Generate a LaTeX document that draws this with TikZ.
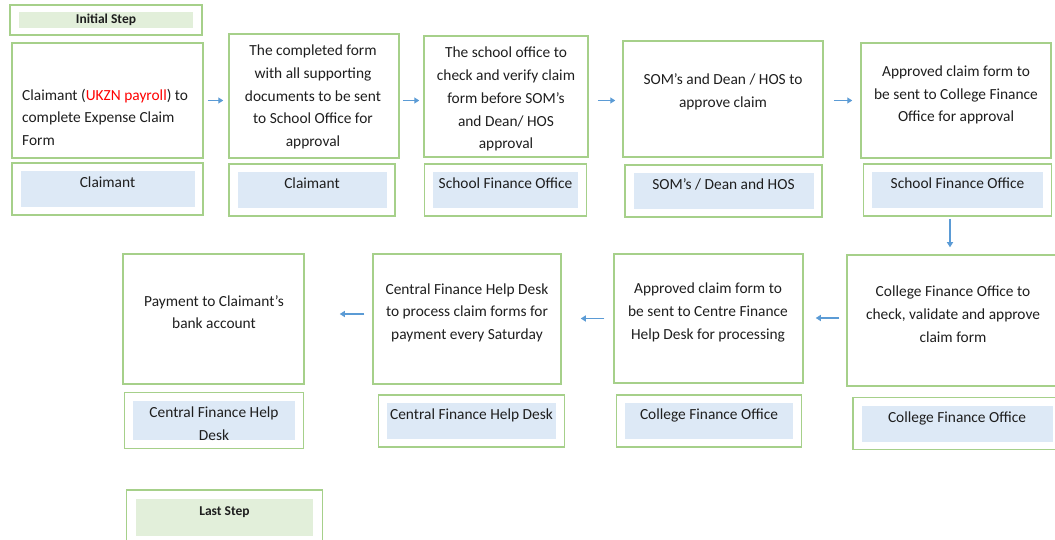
\documentclass[tikz,border=0pt]{standalone}
\usepackage{fontspec}
\setmainfont{Carlito}
\usetikzlibrary{arrows.meta,fit}

\begin{document}
\begin{tikzpicture}[x=1pt,y=-1pt]
    % set up office palette
    \definecolor{boxGreen}{RGB}{166,208,138}
    \definecolor{stepGreen}{RGB}{226,239,218}
    \definecolor{roleBlue}{RGB}{221,233,246}
    \definecolor{flowBlue}{RGB}{91,155,213}
    \definecolor{ukznRed}{RGB}{255,0,0}
    \definecolor{ink}{RGB}{30,30,30}
    \tikzstyle{every node}=[font=\fontsize{15.4}{22.7}\selectfont, text=ink]
    \tikzstyle{stepbox}=[draw=boxGreen, line width=1.5pt, inner sep=0pt]
    \tikzstyle{steptext}=[align=center, inner sep=0pt]
    \tikzstyle{rolefill}=[fill=roleBlue, inner sep=0pt, text height=16.5pt, text depth=19.5pt, align=center]
    \tikzstyle{rolebox}=[draw=boxGreen, line width=1.5pt, inner xsep=8.5pt, inner ysep=8pt]
    \tikzstyle{endfill}=[fill=stepGreen, inner sep=0pt, font=\fontsize{13.5}{15}\selectfont\bfseries]
    \tikzstyle{flow}=[-{Triangle[length=5pt,width=6pt]}, line width=1.5pt, draw=flowBlue]

    \useasboundingbox (0,0) rectangle (1055,540);

    % first and last step tags
    \node[endfill, minimum width=174pt, text height=12pt, text depth=4pt] (initFill) at (106,20) {Initial Step};
    \node[rolebox, inner xsep=9pt, inner ysep=7pt, fit=(initFill)] (init) {};
    \node[endfill, minimum width=177pt, text height=16pt, text depth=21pt] (lastFill) at (224.5,517.5) {Last Step};
    \node[rolebox, inner xsep=9.5pt, inner ysep=9pt, fit=(lastFill)] (last) {};

    % top row of steps
    \node[stepbox, minimum width=191pt, minimum height=115pt] (s1) at (107.5,100.5) {};
    \node[stepbox, minimum width=170pt, minimum height=124pt] (s2) at (314,96) {};
    \node[stepbox, minimum width=164pt, minimum height=121pt] (s3) at (506,96.5) {};
    \node[stepbox, minimum width=200pt, minimum height=116pt] (s4) at (723,99) {};
    \node[stepbox, minimum width=190pt, minimum height=115pt] (s5) at (956,100.5) {};

    \node[steptext, align=left, anchor=west] (s1t) at (22,117.3) {Claimant (\textcolor{ukznRed}{UKZN payroll}) to\\complete Expense Claim\\Form};
    \node[steptext] (s2t) at (313,97) {The completed form\\with all supporting\\documents to be sent\\to School Office for\\approval};
    \node[steptext] (s3t) at (506,99.2) {The school office to\\check and verify claim\\form before SOM's\\and Dean/ HOS\\approval};
    \node[steptext] (s4t) at (723,92) {SOM's and Dean / HOS to\\approve claim};
    \node[steptext] (s5t) at (956,95) {Approved claim form to\\be sent to College Finance\\Office for approval};

    % bottom row of steps
    \node[stepbox, minimum width=212pt, minimum height=131pt] (s6) at (953,320.5) {};
    \node[stepbox, minimum width=189pt, minimum height=129pt] (s7) at (708.5,318.5) {};
    \node[stepbox, minimum width=188pt, minimum height=130pt] (s8) at (467,319) {};
    \node[stepbox, minimum width=181pt, minimum height=130pt] (s9) at (213.5,319) {};

    \node[steptext] (s6t) at (953,314.3) {College Finance Office to\\check, validate and approve\\claim form};
    \node[steptext] (s7t) at (708,312.3) {Approved claim form to\\be sent to Centre Finance\\Help Desk for processing};
    \node[steptext] (s8t) at (467,312.7) {Central Finance Help Desk\\to process claim forms for\\payment every Saturday};
    \node[steptext] (s9t) at (214,312) {Payment to Claimant's\\bank account};

    % who does each step
    \node[rolefill, minimum width=174pt] (f1) at (107.5,189) {Claimant};
    \node[rolefill, minimum width=149pt] (f2) at (312,190) {Claimant};
    \node[rolefill, minimum width=145pt] (f3) at (505.5,190) {School Finance Office};
    \node[rolefill, minimum width=180pt] (f4) at (723.5,191) {SOM's / Dean and HOS};
    \node[rolefill, minimum width=171pt] (f5) at (957.5,190) {School Finance Office};
    \node[rolefill, minimum width=191pt] (f6) at (957,423.5) {College Finance Office};
    \node[rolefill, minimum width=168pt] (f7) at (709,421) {College Finance Office};
    \node[rolefill, minimum width=169pt] (f8) at (471.5,421) {Central Finance Help Desk};
    \node[rolefill, minimum width=162pt, text height=39.2pt, text depth=0pt] (f9) at (214,420.5) {Central Finance Help\\Desk};
    \foreach \i in {1,...,9}{
      \node[rolebox, fit=(f\i)] (r\i) {};
    }

    % arrows between steps
    \draw[flow, shorten <=4pt, shorten >=5pt] (s1.east) -- (s2.west |- s1.east);
    \draw[flow, shorten <=3pt, shorten >=4pt] (s2.east |- s1.east) -- (s3.west |- s1.east);
    \draw[flow, shorten <=9pt, shorten >=7pt] (s3.east |- s1.east) -- (s4.west |- s1.east);
    \draw[flow, shorten <=10pt, shorten >=8pt] (s4.east |- s1.east) -- (s5.west |- s1.east);
    \draw[flow, shorten <=2pt, shorten >=7pt] ([xshift=-7.5pt]r5.south) -- ([xshift=-7.5pt]r5.south |- s6.north);
    \draw[flow, shorten <=7pt, shorten >=12pt] ([yshift=2.5pt]s6.west) -- ([yshift=2.5pt]s6.west -| s7.east);
    \draw[flow, shorten <=9pt, shorten >=19pt] (s7.west) -- (s7.west -| s8.east);
    \draw[flow, shorten <=8pt, shorten >=35pt] ([yshift=5pt]s8.west) -- ([yshift=5pt]s8.west -| s9.east);

\end{tikzpicture}
\end{document}
